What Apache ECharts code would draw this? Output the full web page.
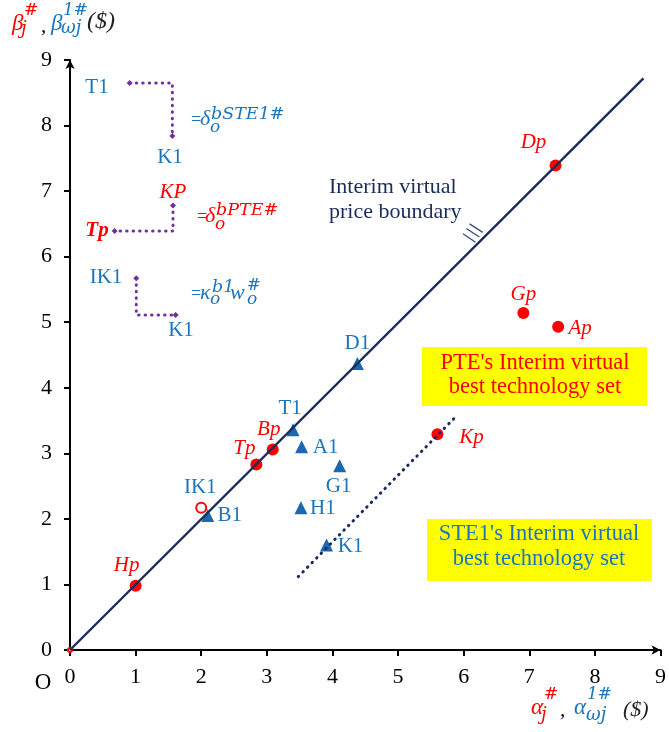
<!DOCTYPE html>
<html>
<head>
<meta charset="utf-8">
<script src="https://cdn.jsdelivr.net/npm/echarts@6/dist/echarts.min.js"></script>
<style>
html,body{margin:0;padding:0;background:#fff;}
#c{width:669px;height:732px;}
</style>
</head>
<body>
<div id="c"></div>
<script>
// ---------- data ----------
const xTicks = [0, 1, 2, 3, 4, 5, 6, 7, 8, 9];
const yTicks = [0, 1, 2, 3, 4, 5, 6, 7, 8, 9];

const redNames = ['Hp', 'Tp', 'Bp', 'Kp', 'Gp', 'Ap', 'Dp'];
const redX = [1.00, 2.84, 3.09, 5.60, 6.91, 7.44, 7.40];
const redY = [0.98, 2.83, 3.06, 3.29, 5.14, 4.93, 7.39];

const openNames = ['IK1'];
const openX = [2.00];
const openY = [2.17];

const triNames = ['B1', 'T1', 'A1', 'H1', 'G1', 'K1', 'D1'];
const triX = [2.10, 3.40, 3.53, 3.52, 4.11, 3.91, 4.38];
const triY = [2.05, 3.36, 3.10, 2.17, 2.81, 1.60, 4.37];

const boundaryX = [0, 8.74];
const boundaryY = [0, 8.72];

const kpLineX = [3.48, 5.86];
const kpLineY = [1.12, 3.54];

// three hatch strokes on the boundary
const hatchX1 = [6.09, 6.04, 5.99];
const hatchY1 = [6.50, 6.43, 6.35];
const hatchX2 = [6.29, 6.24, 6.18];
const hatchY2 = [6.37, 6.30, 6.22];

// purple dotted legend paths
const pathSTEx = [0.91, 1.56, 1.56];
const pathSTEy = [8.65, 8.65, 7.84];
const pathPTEx = [1.57, 1.57, 0.68];
const pathPTEy = [6.78, 6.39, 6.39];
const pathKapx = [1.01, 1.01, 1.61];
const pathKapy = [5.67, 5.11, 5.11];

// ---------- styling / layout ----------
const RED = '#ff0000';
const BLUE = '#1a75bc';
const TRI = '#1b68b0';
const NAVY = '#1a2c5c';
const PURPLE = '#7030a0';
const SERIF = '"Liberation Serif", "Times New Roman", serif';
const MATH = '"DejaVu Serif", serif';

const labelOff = {
  Hp: [-9, -20], Tp: [-12, -16], Bp: [-4, -20], Dp: [-22, -23], Gp: [0, -19],
  Ap: [22, 2], Kp: [34, 3], IK1: [-1, -20],
  D1: [0, -20], T1: [-3, -21], A1: [24, 1], G1: [-1, 21], B1: [22, 0],
  H1: [22, 1], K1: [24, 1]
};

function pts(names, xs, ys) {
  return names.map((n, i) => ({ name: n, value: [xs[i], ys[i]],
    label: { offset: labelOff[n] } }));
}
function pathData(xs, ys) {
  return xs.map((x, i) => ({ value: [x, ys[i]],
    symbol: (i === 0 || i === xs.length - 1) ? 'diamond' : 'none', symbolSize: 6 }));
}
function zip(xs, ys) { return xs.map((x, i) => [x, ys[i]]); }

const hatchData = [];
for (let i = 0; i < hatchX1.length; i++) {
  hatchData.push([hatchX1[i], hatchY1[i]], [hatchX2[i], hatchY2[i]], '-');
}

function T(text, x, y, color, size, opt) {
  opt = opt || {};
  return { type: 'text', x: x, y: y, z: 100,
    style: { text: text, fill: color, fontSize: size,
      fontFamily: opt.family || SERIF,
      fontStyle: opt.italic ? 'italic' : 'normal',
      fontWeight: opt.bold ? 'bold' : 'normal',
      align: opt.align || 'left', verticalAlign: 'middle',
      lineHeight: opt.lh || size } };
}
const it = { italic: true };
const mi = { italic: true, family: MATH };

const graphics = [
  // y-axis title
  T('β', 12, 24, RED, 23, it),
  T('#', 24, 11, RED, 17, mi),
  T('j', 21, 29, RED, 18, mi),
  T(',', 41, 26, '#000', 21, it),
  T('β', 51, 24, BLUE, 23, it),
  T('1#', 63, 11, BLUE, 17, mi),
  T('ωj', 61, 28, BLUE, 18, mi),
  T('($)', 87, 22, '#222', 24, it),
  // x-axis title
  T('α', 531, 708, RED, 23, it),
  T('#', 544, 695, RED, 17, mi),
  T('j', 541, 715, RED, 18, mi),
  T(',', 560, 710, '#000', 21, it),
  T('α', 574, 708, BLUE, 23, it),
  T('1#', 587, 695, BLUE, 17, mi),
  T('ωj', 586, 715, BLUE, 18, mi),
  T('($)', 623, 710, '#222', 22, it),
  // origin
  T('O', 43, 683, '#000', 23, { align: 'center' }),
  // legend path labels
  T('T1', 97, 87, BLUE, 21, { align: 'center' }),
  T('K1', 170, 157, BLUE, 21, { align: 'center' }),
  T('KP', 173, 192, RED, 21, { italic: true, align: 'center' }),
  T('Tp', 97, 231, RED, 21, { italic: true, bold: true, align: 'center' }),
  T('IK1', 106, 277, BLUE, 21, { align: 'center' }),
  T('K1', 181, 330, BLUE, 21, { align: 'center' }),
  // formula 1
  T('=', 191, 120, BLUE, 18),
  T('δ', 200, 119, BLUE, 22, it),
  T('bSTE1#', 211, 114, BLUE, 17.5, mi),
  T('o', 210, 128, BLUE, 17, mi),
  // formula 2
  T('=', 197, 217, RED, 18),
  T('δ', 205, 216, RED, 22, it),
  T('bPTE#', 216, 210, RED, 17.5, mi),
  T('o', 215, 225, RED, 17, mi),
  // formula 3
  T('=', 191, 294, BLUE, 18),
  T('κ', 200, 293, BLUE, 22, it),
  T('b1', 212, 287, BLUE, 17.5, mi),
  T('o', 210, 300, BLUE, 17, mi),
  T('w', 230, 293, BLUE, 22, it),
  T('#', 247, 286, BLUE, 16.5, mi),
  T('o', 247, 300, BLUE, 17, mi),
  // boundary label
  T('Interim virtual\nprice boundary', 329, 200, NAVY, 22, { lh: 25 }),
  // yellow boxes
  { type: 'rect', z: 90, shape: { x: 422, y: 347, width: 225, height: 59 }, style: { fill: '#ffff00' } },
  T("PTE's Interim virtual\nbest technology set", 535, 375, RED, 22.5, { align: 'center', lh: 24 }),
  { type: 'rect', z: 90, shape: { x: 427, y: 519, width: 225, height: 62 }, style: { fill: '#ffff00' } },
  T("STE1's Interim virtual\nbest technology set", 539, 547, BLUE, 22.5, { align: 'center', lh: 25 })
];

const chart = echarts.init(document.getElementById('c'), null, { renderer: 'canvas' });
chart.setOption({
  backgroundColor: '#fff',
  animation: false,
  grid: { left: 70, right: 3.5, top: 60, bottom: 82, containLabel: false },
  xAxis: {
    type: 'value', min: xTicks[0], max: xTicks[xTicks.length - 1], interval: 1,
    splitLine: { show: false },
    axisLine: { show: true, lineStyle: { color: '#000', width: 2 }, symbol: ['none', 'arrow'], symbolSize: [7, 9] },
    axisTick: { show: true, length: 6, lineStyle: { color: '#000', width: 2 } },
    axisLabel: { color: '#000', fontSize: 22, fontFamily: SERIF, margin: 16 }
  },
  yAxis: {
    type: 'value', min: yTicks[0], max: yTicks[yTicks.length - 1], interval: 1,
    splitLine: { show: false },
    axisLine: { show: true, lineStyle: { color: '#000', width: 2 }, symbol: ['none', 'arrow'], symbolSize: [7, 9] },
    axisTick: { show: true, length: 6, lineStyle: { color: '#000', width: 2 } },
    axisLabel: { color: '#000', fontSize: 22, fontFamily: SERIF, margin: 18 }
  },
  series: [
    {
      type: 'scatter', name: 'red', z: 3, symbol: 'circle', symbolSize: 12,
      itemStyle: { color: RED, opacity: 1 },
      label: { show: true, position: 'inside', formatter: '{b}', color: RED, fontSize: 21,
        fontStyle: 'italic', fontFamily: SERIF },
      data: pts(redNames, redX, redY)
    },
    {
      type: 'scatter', name: 'open', z: 3, symbol: 'emptyCircle', symbolSize: 10,
      itemStyle: { color: RED, borderColor: RED, borderWidth: 1.5, opacity: 1 },
      label: { show: true, position: 'inside', formatter: '{b}', color: BLUE, fontSize: 21, fontFamily: SERIF },
      data: pts(openNames, openX, openY)
    },
    {
      type: 'scatter', name: 'origin', z: 3, symbol: 'emptyCircle', symbolSize: 4,
      itemStyle: { color: RED, borderColor: RED, borderWidth: 1, opacity: 1 },
      data: [[xTicks[0], yTicks[0]]]
    },
    {
      type: 'scatter', name: 'tri', z: 3, symbol: 'triangle', symbolSize: 13,
      itemStyle: { color: TRI, opacity: 1 },
      label: { show: true, position: 'inside', formatter: '{b}', color: BLUE, fontSize: 21, fontFamily: SERIF },
      data: pts(triNames, triX, triY)
    },
    {
      type: 'line', z: 5, symbol: 'none', silent: true,
      lineStyle: { color: NAVY, width: 2.4 },
      data: zip(boundaryX, boundaryY)
    },
    {
      type: 'line', z: 5, symbol: 'none', silent: true,
      lineStyle: { color: NAVY, width: 3, type: [0.5, 6], cap: 'round' },
      data: zip(kpLineX, kpLineY)
    },
    {
      type: 'line', z: 5, symbol: 'none', silent: true, connectNulls: false,
      lineStyle: { color: '#3a4b7a', width: 1.3 },
      data: hatchData
    },
    {
      type: 'line', z: 5, silent: true, itemStyle: { color: PURPLE, opacity: 1 },
      lineStyle: { color: PURPLE, width: 3, type: [0.5, 6], cap: 'round' },
      data: pathData(pathSTEx, pathSTEy)
    },
    {
      type: 'line', z: 5, silent: true, itemStyle: { color: PURPLE, opacity: 1 },
      lineStyle: { color: PURPLE, width: 3, type: [0.5, 6], cap: 'round' },
      data: pathData(pathPTEx, pathPTEy)
    },
    {
      type: 'line', z: 5, silent: true, itemStyle: { color: PURPLE, opacity: 1 },
      lineStyle: { color: PURPLE, width: 3, type: [0.5, 6], cap: 'round' },
      data: pathData(pathKapx, pathKapy)
    }
  ],
  graphic: graphics
});
</script>
</body>
</html>
